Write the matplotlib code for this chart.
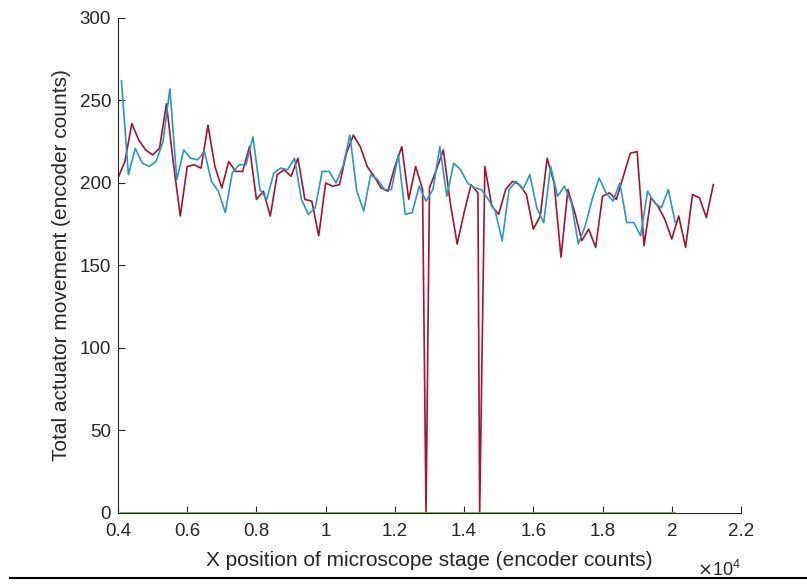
import numpy as np
import matplotlib
matplotlib.use("Agg")
from matplotlib import pyplot as plt
from matplotlib.lines import Line2D
from matplotlib.ticker import FuncFormatter

plt.rcParams['font.family'] = ['Liberation Sans', 'DejaVu Sans']

# blue run, every 200 counts starting 4100
blue_x = np.arange(4100, 20101, 200)
blue_y = [262, 205, 221, 212, 210, 213, 225, 257, 202, 220,
          215, 214, 219, 201, 195, 182, 206, 211, 211, 228,
          196, 190, 206, 209, 208, 215, 190, 181, 185, 207,
          207, 200, 210, 229, 195, 183, 205, 202, 196, 196,
          217, 181, 182, 198, 189, 196, 222, 192, 212, 208,
          200, 197, 196, 190, 183, 165, 196, 201, 196, 205,
          185, 176, 210, 192, 198, 188, 163, 174, 190, 203,
          194, 189, 200, 176, 176, 168, 195, 188, 185, 196,
          176]

# red run, every 200 counts starting 4000
red_x = np.arange(4000, 21201, 200)
red_y = [203, 213, 236, 226, 220, 217, 221, 248, 212, 180,
         210, 211, 209, 235, 210, 197, 213, 207, 207, 222,
         190, 195, 180, 205, 208, 204, 215, 190, 189, 168,
         200, 198, 199, 218, 229, 222, 210, 204, 197, 195,
         210, 222, 190, 210, 196, 197, 208, 220, 188, 163,
         182, 199, 194, 210, 186, 181, 196, 201, 199, 193,
         172, 180, 215, 200, 155, 196, 182, 165, 172, 161,
         192, 194, 190, 204, 218, 219, 162, 191, 186, 178,
         166, 180, 161, 193, 191, 179, 199]

# dropouts in the red run
drop_x = [12900, 14450]
drop_y = [0, 0]

# third trace sits on zero
green_y = np.zeros(len(blue_x))

rx = np.concatenate([red_x, drop_x])
ry = np.concatenate([red_y, drop_y])
order = np.argsort(rx, kind='stable')
rx = rx[order]
ry = ry[order]

fig = plt.figure(figsize=(8.07, 5.85), dpi=100)
ax = fig.add_axes([0.1462, 0.1231, 0.772, 0.8462])

ax.plot(rx, ry, color='#A2142F', lw=1.2)
ax.plot(blue_x, blue_y, color='#2A96C6', lw=1.2)
ax.plot(blue_x, green_y, color='#77AC30', lw=1.3, clip_on=False)

ax.set_xlim(4000, 22000)
ax.set_ylim(0, 300)
ax.set_xticks(np.arange(4000, 22001, 2000))
ax.set_yticks(np.arange(0, 301, 50))
ax.xaxis.set_major_formatter(FuncFormatter(lambda v, p: '%g' % (v / 1e4)))

axcol = '#262626'
for s in ['top', 'right']:
    ax.spines[s].set_visible(False)
for s in ['left', 'bottom']:
    ax.spines[s].set_color(axcol)
    ax.spines[s].set_linewidth(0.8)
ax.tick_params(direction='in', length=5, width=0.8, colors=axcol, labelsize=13.5)
ax.tick_params(axis='x', pad=7)
ax.tick_params(axis='y', pad=5)

ax.set_xlabel('X position of microscope stage (encoder counts)', fontsize=15, color=axcol, labelpad=8)
ax.set_ylabel('Total actuator movement (encoder counts)', fontsize=15, color=axcol, labelpad=6)

ax.text(1.0, -0.115, r'$\times\mathregular{10^{4}}$', transform=ax.transAxes,
        ha='right', va='center', fontsize=13, color=axcol)

# border line under the plot
fig.add_artist(Line2D([0.012, 1.0], [0.012, 0.012], color='black', lw=1.5,
                      transform=fig.transFigure))

fig.savefig('out.png', dpi=100, facecolor='white')
